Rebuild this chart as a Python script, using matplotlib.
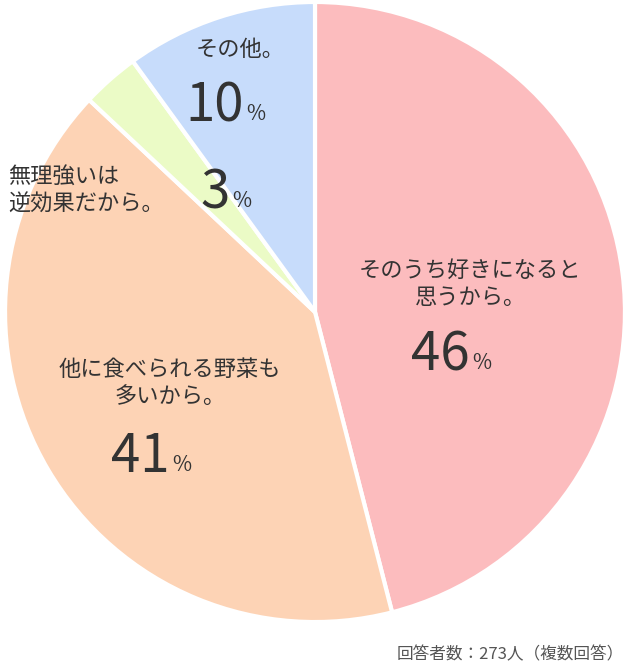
import matplotlib.pyplot as plt

plt.rcParams['font.family'] = ['Noto Sans CJK JP', 'DejaVu Sans']

labels = ["そのうち好きになると\n思うから。", "他に食べられる野菜も\n多いから。", "無理強いは\n逆効果だから。", "その他。"]
values = [46, 41, 3, 10]
colors = ["#fcbcbe", "#fdd3b5", "#ebfbc6", "#c7dcfb"]

W, H = 630, 666
fig = plt.figure(figsize=(W / 100, H / 100), dpi=100)
ax = fig.add_axes([0.008, 0.5315 - 0.4655, 0.984, 0.931])
ax.pie(values, colors=colors, startangle=90, counterclock=False,
       wedgeprops=dict(edgecolor="white", linewidth=3))
ax.set_xlim(-1.0, 1.0)
ax.set_ylim(-1.0, 1.0)
ax.set_aspect("auto")

txt = "#333333"

def px(x, y):
    return x / W, 1 - y / H

# label text position, number position (pixel coords)
label_pos = [(470, 284, "center"), (170, 383, "center"), (8, 190, "left"), (240, 50, "center")]
num_pos = [(462, 355), (162, 457), (222, 193), (236, 106)]

for lab, v, (lx, ly, ha), (nx, ny) in zip(labels, values, label_pos, num_pos):
    fig.text(*px(lx, ly), lab, ha=ha, va="center", fontsize=16, color=txt, linespacing=1.25)
    fig.text(*px(nx + 8, ny), str(v), ha="right", va="center", fontsize=38, color=txt)
    fig.text(*px(nx + 10, ny + 8), "%", ha="left", va="center", fontsize=15, color=txt)

fig.text(*px(624, 655), "回答者数：273人（複数回答）", ha="right", va="center", fontsize=12, color="#555555")

fig.savefig("out.png", dpi=100)
